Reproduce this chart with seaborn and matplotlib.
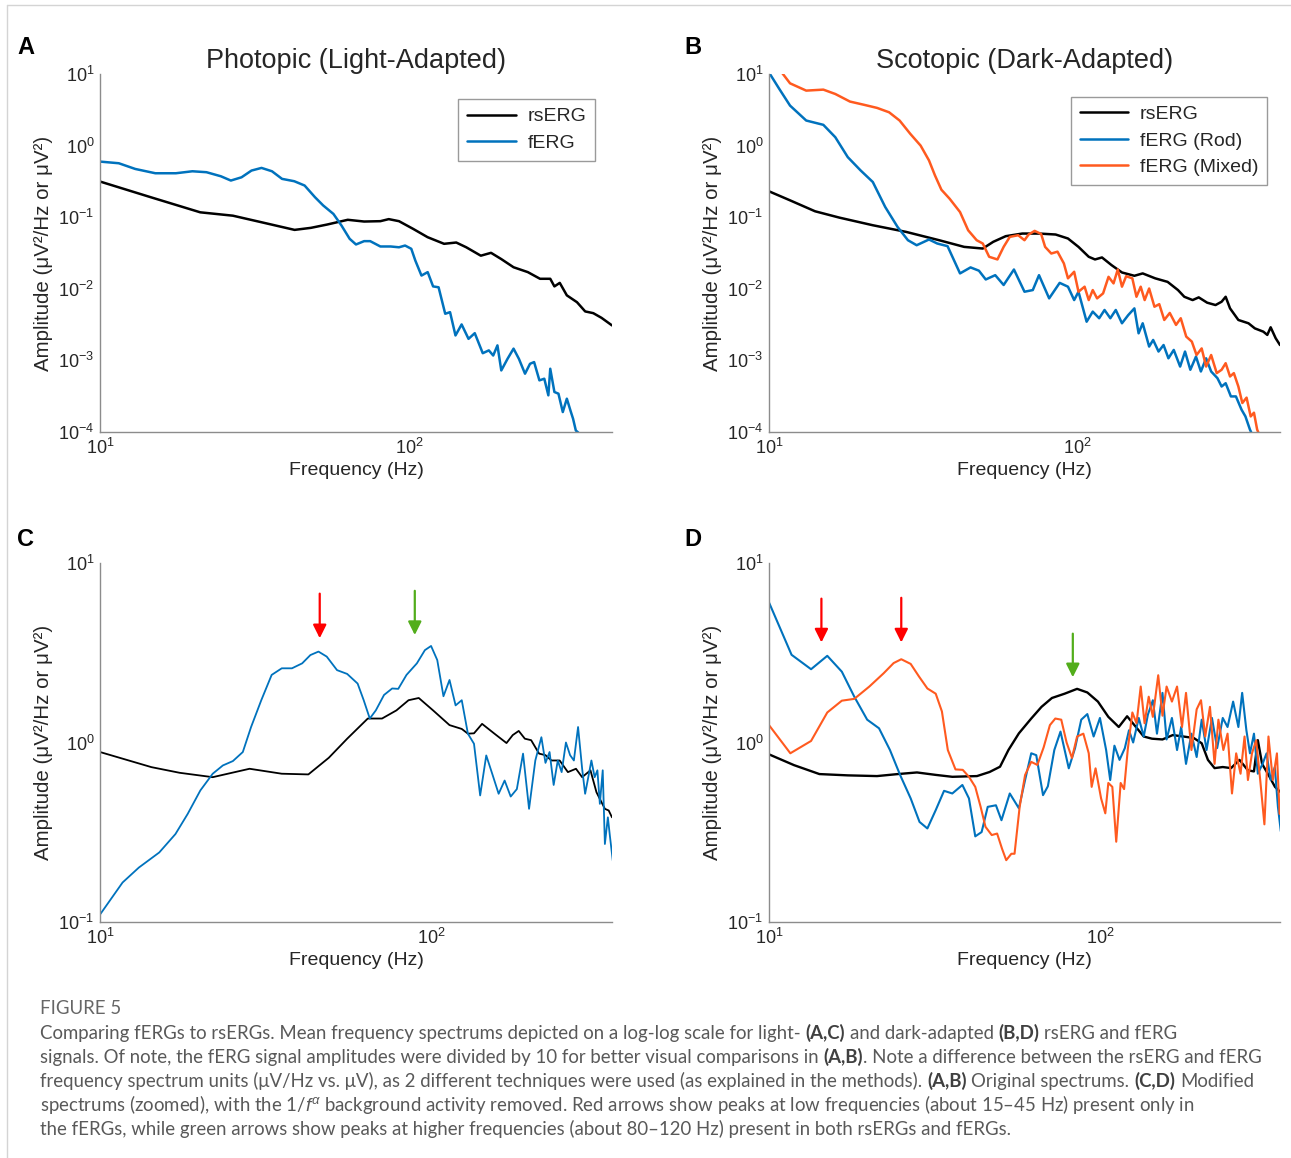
import numpy as np
import matplotlib
matplotlib.use("Agg")
import matplotlib.pyplot as plt
import seaborn as sns
from matplotlib.ticker import LogLocator, FuncFormatter, NullFormatter
from matplotlib.lines import Line2D

# ---------------- Panel A: photopic, original spectra ----------------
photopic_rs_hz = [10, 14.6, 21.1, 26.9, 33.3, 42.6, 48.1, 54.3, 63.3, 71.5, 80.7, 85.9, 92.7, 103,
                  114.7, 129.7, 142, 153, 170.5, 184, 198.6, 217.6, 242, 265, 286, 295, 307, 323.6,
                  349, 371, 394, 419, 453]
photopic_rs_amp = [0.315, 0.19, 0.117, 0.105, 0.085, 0.0665, 0.071, 0.079, 0.092, 0.087, 0.088, 0.094,
                   0.088, 0.0687, 0.0526, 0.0425, 0.0443, 0.038, 0.029, 0.0318, 0.026, 0.020, 0.0171,
                   0.0138, 0.0138, 0.0108, 0.0121, 0.0081, 0.0065, 0.00483, 0.00457, 0.00393, 0.00308]

photopic_f_hz = [10, 11.5, 13.0, 15.1, 17.6, 19.9, 22.1, 24.6, 26.5, 28.7, 30.9, 33.3, 36, 38.8, 42.5,
                 45.9, 49.6, 52.7, 56.9, 60.4, 64.2, 67.3, 71.5, 74.8, 80.7, 87.1, 92.7, 97, 101.6,
                 104.7, 109.6, 114.8, 119.5, 124.5, 130.8, 135.6, 141.2, 147.8, 155.6, 163, 173, 181,
                 187, 193, 198.6, 208, 217.6, 226.5, 237, 246, 253.6, 263.8, 273.6, 282, 286, 295, 304,
                 314, 323.6, 333.6, 339, 346, 352.5]
photopic_f_amp = [0.598, 0.567, 0.472, 0.411, 0.411, 0.438, 0.425, 0.373, 0.325, 0.361, 0.448, 0.488,
                  0.438, 0.343, 0.318, 0.277, 0.190, 0.146, 0.111, 0.0766, 0.0499, 0.0416, 0.0463,
                  0.0463, 0.039, 0.039, 0.038, 0.0402, 0.0362, 0.0248, 0.0153, 0.0171, 0.0108, 0.0105,
                  0.00448, 0.00472, 0.00223, 0.00318, 0.0020, 0.0024, 0.00126, 0.00138, 0.00117,
                  0.00162, 0.000724, 0.00105, 0.00146, 0.00105, 0.000652, 0.000897, 0.000948,
                  0.000526, 0.000555, 0.000325, 0.000765, 0.000362, 0.000343, 0.00019, 0.000292,
                  0.00019, 0.000153, 0.000105, 0.000098]

# ---------------- Panel B: scotopic, original spectra ----------------
scotopic_rs_hz = [10, 11.7, 14.1, 16.9, 21.7, 27.8, 35.6, 42.9, 49.3, 53.3, 58.5, 66.2, 75, 84.9, 93.1,
                  100.7, 108.7, 113.9, 120, 128.9, 139.3, 152.8, 162.6, 178.5, 195.8, 211.6, 221.8,
                  236, 247, 263, 280, 293, 302, 312, 332, 358, 375.5, 400, 412, 422.5, 438.6, 453]
scotopic_rs_amp = [0.230, 0.172, 0.121, 0.0987, 0.0772, 0.0624, 0.0477, 0.0385, 0.0365, 0.0453, 0.0543,
                   0.0591, 0.0591, 0.0573, 0.0504, 0.0385, 0.028, 0.0257, 0.0274, 0.0214, 0.0169,
                   0.0152, 0.0164, 0.014, 0.0125, 0.0096, 0.00774, 0.00696, 0.00759, 0.0064, 0.00593,
                   0.0066, 0.00774, 0.00533, 0.00367, 0.0033, 0.0028, 0.00252, 0.00227, 0.0029,
                   0.00204, 0.00164]

scotopic_rod_hz = [10, 10.8, 11.7, 13.2, 15.0, 16.4, 18.0, 19.8, 21.7, 23.8, 26.1, 28.2, 30.1, 33, 35.1,
                   37.9, 41.6, 45, 47.9, 50.4, 54.1, 57.6, 62.2, 67.3, 71.6, 75, 80.9, 87.5, 93.1,
                   97.5, 100.7, 107, 112, 117.5, 122.3, 127.7, 133, 139.3, 146, 152.8, 157.7, 162.6,
                   170.6, 175.8, 183, 190, 197, 205, 215, 223, 232, 242, 251, 261, 271, 284, 293, 302,
                   314, 326, 340, 350, 362, 367]
scotopic_rod_amp = [10.5, 6.18, 3.62, 2.24, 1.95, 1.31, 0.690, 0.451, 0.310, 0.139, 0.0731, 0.0477,
                    0.0406, 0.0488, 0.0429, 0.0394, 0.0164, 0.0199, 0.0179, 0.0135, 0.0155, 0.0113,
                    0.0186, 0.0091, 0.0096, 0.0155, 0.00735, 0.0121, 0.0107, 0.00696, 0.0091, 0.00347,
                    0.0048, 0.00388, 0.00506, 0.00388, 0.00506, 0.0033, 0.0043, 0.00533, 0.00239,
                    0.0033, 0.00156, 0.00193, 0.00133, 0.00164, 0.00107, 0.0014, 0.00082, 0.00133,
                    0.00074, 0.00113, 0.0007, 0.00107, 0.0007, 0.000565, 0.000432, 0.00048, 0.000314,
                    0.000314, 0.000205, 0.000165, 0.000108, 0.000095]

scotopic_mix_hz = [11.0, 11.7, 13.2, 15.0, 16.4, 18.3, 20.4, 22.4, 24.5, 26.5, 28.7, 31, 33, 34.5, 36.2,
                   38.5, 41.6, 44.2, 47.1, 49.3, 51.7, 55, 57.6, 60.3, 64.2, 67.3, 69.4, 72.6, 76.2,
                   78.5, 82.2, 86.1, 90.3, 93.1, 97.5, 100.7, 105.4, 108.7, 112, 115.7, 121, 126,
                   130.8, 135, 139.3, 143.7, 150.5, 155.2, 160.2, 165, 170.6, 177.5, 184, 191, 199,
                   208.5, 216, 225, 234.6, 243, 252.5, 261, 271, 282.5, 293, 302, 312, 321, 332, 342,
                   353, 364, 373, 382, 389]
scotopic_mix_amp = [10.5, 7.41, 5.86, 6.05, 5.26, 4.12, 3.70, 3.36, 2.92, 2.24, 1.46, 1.0, 0.621, 0.384,
                    0.242, 0.181, 0.118, 0.0657, 0.0477, 0.0429, 0.028, 0.0257, 0.0385, 0.0531, 0.056,
                    0.0477, 0.0573, 0.0644, 0.0583, 0.0385, 0.0311, 0.033, 0.0226, 0.014, 0.0173,
                    0.0091, 0.0107, 0.00696, 0.0096, 0.00735, 0.00863, 0.0147, 0.0119, 0.0186, 0.0107,
                    0.015, 0.014, 0.00774, 0.0107, 0.00696, 0.0101, 0.00562, 0.0061, 0.00367, 0.0046,
                    0.00313, 0.00388, 0.00215, 0.00183, 0.00119, 0.00147, 0.00082, 0.00119, 0.000664,
                    0.00074, 0.000914, 0.000596, 0.000664, 0.000432, 0.000254, 0.000302, 0.000165,
                    0.000186, 0.000108, 0.00009]

# ---------------- Panel C: photopic, 1/f removed ----------------
flat_photopic_rs_hz = [10, 14.3, 17.4, 21.9, 28.3, 35.4, 42.6, 49.1, 55.8, 64.4, 71.1, 78.6, 85.5, 91.8,
                       101.4, 113.7, 123.8, 129.2, 134.8, 142.6, 155.4, 169, 176.5, 184, 192, 200.6,
                       212, 221.6, 231, 244.6, 259, 274, 286, 303, 316, 335, 344, 352]
flat_photopic_rs_amp = [0.885, 0.729, 0.678, 0.641, 0.714, 0.670, 0.664, 0.822, 1.05, 1.36, 1.36, 1.51,
                        1.72, 1.77, 1.51, 1.25, 1.19, 1.12, 1.125, 1.27, 1.12, 0.993, 1.10, 1.16, 1.05,
                        1.03, 0.867, 0.85, 0.794, 0.794, 0.684, 0.714, 0.641, 0.70, 0.528, 0.427, 0.418,
                        0.383]

flat_photopic_f_hz = [10, 11.7, 13.1, 15.1, 16.9, 18.4, 20.1, 21.9, 23.5, 25.2, 27, 28.6, 30.7, 33, 35.4,
                      38, 40.8, 43.2, 45.7, 48.4, 52, 55.8, 60, 62.6, 65.3, 68.1, 72.1, 76.3, 79.6,
                      84.3, 90.6, 95.8, 100, 104.4, 109, 113.7, 118.6, 123.8, 129.2, 134.8, 140.7,
                      146.8, 153, 160, 166.8, 174, 181.6, 189.6, 197.7, 206.5, 215.4, 221.6, 228,
                      234.6, 241.4, 248, 255.5, 263, 270, 278, 286, 292, 298.5, 305, 312, 318, 323.5,
                      330, 335, 342, 347, 354]
flat_photopic_f_amp = [0.110, 0.166, 0.201, 0.244, 0.309, 0.400, 0.541, 0.670, 0.745, 0.788, 0.885, 1.22,
                       1.72, 2.38, 2.59, 2.59, 2.76, 3.07, 3.21, 3.01, 2.53, 2.41, 2.13, 1.72, 1.36,
                       1.51, 1.84, 2.0, 1.99, 2.38, 2.76, 3.27, 3.45, 2.88, 1.81, 2.23, 1.61, 1.72,
                       1.12, 0.984, 0.507, 0.847, 0.67, 0.518, 0.614, 0.50, 0.55, 0.867, 0.427, 0.794,
                       1.07, 0.77, 0.885, 0.58, 0.794, 0.684, 1.0, 0.85, 0.794, 1.22, 0.714, 0.518,
                       0.641, 0.794, 0.641, 0.70, 0.455, 0.70, 0.272, 0.383, 0.30, 0.219]

# ---------------- Panel D: scotopic, 1/f removed ----------------
flat_scotopic_rs_hz = [10, 11.9, 14.2, 17.3, 21.2, 24.5, 28, 31.9, 35.8, 42.5, 46.4, 49.9, 52.9, 56.9, 62,
                       66.6, 71.6, 78.2, 85.3, 91.6, 98.6, 106, 114, 120.8, 128, 135.6, 143.6, 154.5,
                       166, 178.6, 192, 203, 212, 222, 235, 249, 264, 280, 292, 300, 309, 323, 338, 350]
flat_scotopic_rs_amp = [0.859, 0.748, 0.667, 0.656, 0.650, 0.667, 0.681, 0.66, 0.644, 0.650, 0.685,
                        0.733, 0.908, 1.125, 1.36, 1.58, 1.77, 1.87, 1.99, 1.90, 1.69, 1.39, 1.22, 1.40,
                        1.23, 1.08, 1.05, 1.04, 1.10, 1.08, 1.06, 0.99, 0.80, 0.72, 0.73, 0.72, 0.80,
                        0.70, 0.69, 1.03, 0.76, 0.66, 0.566, 0.532]

flat_scotopic_rod_hz = [10, 11.7, 13.4, 15.0, 16.6, 18.1, 19.8, 21.5, 23.2, 24.9, 26.8, 28.5, 30.1, 31.9,
                        33.8, 35.8, 38.4, 40.2, 42, 43.9, 45.8, 48.5, 50.4, 53.4, 56.9, 59.4, 62, 64.2,
                        67.3, 69.6, 72.8, 76, 80.5, 84.1, 87.8, 91.6, 95.7, 100, 104.4, 107.4, 110.6,
                        114.6, 118.9, 122.4, 126, 131, 135.6, 139.6, 144.5, 148.7, 154.5, 159, 165, 171,
                        176, 182, 189, 196, 203, 210, 218, 226, 235, 243, 252.6, 262, 269, 277, 284, 292,
                        300, 310, 318.7, 328, 337.6, 345, 352]
flat_scotopic_rod_amp = [6.03, 3.08, 2.56, 3.04, 2.48, 1.80, 1.34, 1.2, 0.908, 0.659, 0.488, 0.361,
                         0.332, 0.42, 0.538, 0.52, 0.58, 0.488, 0.30, 0.317, 0.438, 0.447, 0.369, 0.52,
                         0.43, 0.618, 0.871, 0.85, 0.509, 0.57, 0.908, 1.15, 0.718, 0.93, 1.34, 1.44,
                         1.08, 1.37, 0.908, 0.618, 0.96, 0.80, 0.93, 1.17, 1.0, 1.37, 1.08, 1.43, 1.72,
                         1.12, 1.89, 1.04, 1.37, 0.908, 1.22, 0.76, 1.12, 0.83, 1.34, 0.908, 1.37, 0.93,
                         1.37, 1.22, 1.69, 1.22, 1.89, 1.17, 0.87, 1.12, 0.67, 0.76, 0.87, 0.618, 0.73,
                         0.438, 0.32]

flat_scotopic_mix_hz = [10, 11.6, 13.4, 15.0, 16.6, 18.1, 20.1, 22.2, 23.8, 25.1, 26.8, 28.4, 30.1, 31.9,
                        33.3, 34.7, 36.6, 38.5, 40.2, 42, 43.6, 45.1, 47.1, 48.9, 50.6, 52.1, 54, 55.2,
                        57.2, 59.4, 62, 64.7, 67.6, 70.6, 73.3, 76.4, 79.3, 82.3, 85.3, 89.1, 92.5,
                        94.4, 97, 100.8, 103.8, 106, 109, 112, 115.5, 118.3, 121.4, 125.3, 129, 132.8,
                        136.4, 140.4, 144.5, 150, 154.5, 159, 165, 171, 177, 182, 189, 196, 202, 208,
                        215, 222, 228, 236, 243, 250.6, 258, 266, 273.5, 280, 288, 296.5, 305, 314, 323,
                        333, 342.6, 349]
flat_scotopic_mix_amp = [1.25, 0.871, 1.02, 1.47, 1.71, 1.75, 2.05, 2.43, 2.77, 2.91, 2.74, 2.33, 2.0,
                         1.87, 1.49, 0.908, 0.708, 0.704, 0.644, 0.566, 0.438, 0.339, 0.305, 0.311,
                         0.256, 0.221, 0.24, 0.24, 0.438, 0.659, 0.78, 0.75, 0.94, 1.25, 1.36, 1.34,
                         1.0, 0.82, 1.08, 1.12, 0.871, 0.566, 0.718, 0.488, 0.403, 0.595, 0.566, 0.28,
                         0.595, 0.55, 0.92, 1.47, 1.28, 2.05, 1.28, 1.80, 1.39, 2.37, 1.41, 2.05, 1.69,
                         2.05, 1.22, 1.89, 0.908, 1.53, 1.72, 1.08, 1.58, 0.76, 1.34, 0.908, 1.12, 0.52,
                         0.87, 0.67, 1.08, 0.618, 0.87, 1.03, 0.618, 0.35, 1.08, 0.618, 0.87, 0.40]

# Peak markers: (panel, frequency Hz, arrow tip, arrow tail, colour)
arrow_panel = ["C", "C", "D", "D", "D"]
arrow_hz = [46.1, 89.3, 14.4, 25.1, 82.8]
arrow_tip = [3.81, 3.97, 3.61, 3.61, 2.31]
arrow_tail = [6.75, 7.0, 6.33, 6.40, 4.04]
arrow_color = ["#FF0000", "#52AD1B", "#FF0000", "#FF0000", "#52AD1B"]

BLACK = "#000000"
BLUE = "#0072BD"
ORANGE = "#FF5A1F"
AXIS_GREY = "#8c8c8c"
TEXT = "#262626"

sns.set_theme(style="white")
plt.rcParams["font.family"] = ["Liberation Sans", "DejaVu Sans"]
plt.rcParams["mathtext.fontset"] = "custom"
plt.rcParams["mathtext.rm"] = "Liberation Sans"
plt.rcParams["mathtext.it"] = "Liberation Sans:italic"
plt.rcParams["mathtext.bf"] = "Liberation Sans:bold"

W, H = 1291, 1158
fig = plt.figure(figsize=(W / 100, H / 100), dpi=100)
fig.patch.set_facecolor("white")


def box(left, top, right, bottom):
    return [left / W, 1 - bottom / H, (right - left) / W, (bottom - top) / H]


def pow10(v, pos):
    return f"$10^{{{int(round(np.log10(v)))}}}$"


def style(ax, xlim, ylim):
    ax.set_xscale("log")
    ax.set_yscale("log")
    ax.set_xlim(*xlim)
    ax.set_ylim(*ylim)
    ax.set_facecolor("white")
    for s in ["top", "right"]:
        ax.spines[s].set_visible(False)
    for s in ["left", "bottom"]:
        ax.spines[s].set_color(AXIS_GREY)
        ax.spines[s].set_linewidth(1.0)
    for axis in (ax.xaxis, ax.yaxis):
        axis.set_major_locator(LogLocator(base=10, numticks=20))
        axis.set_minor_locator(LogLocator(base=10, subs=np.arange(2, 10), numticks=40))
        axis.set_major_formatter(FuncFormatter(pow10))
        axis.set_minor_formatter(NullFormatter())
    ax.tick_params(which="both", direction="in", color=AXIS_GREY, width=0.8,
                   labelcolor=TEXT, labelsize=13, pad=4, top=False, right=False)
    ax.tick_params(which="major", length=5)
    ax.tick_params(which="minor", length=3)
    ax.set_xlabel("Frequency (Hz)", fontsize=14, color=TEXT, labelpad=3)
    ax.set_ylabel("Amplitude (μV²/Hz or μV²)", fontsize=14.8, color=TEXT, labelpad=4)


def draw(ax, hz, amp, color, lw, label=None):
    sns.lineplot(x=hz, y=amp, color=color, linewidth=lw, ax=ax, label=label,
                 estimator=None, sort=False, legend=False)


def legend(ax, anchor):
    leg = ax.legend(loc="upper right", bbox_to_anchor=anchor, frameon=True, fancybox=False,
                    framealpha=1, edgecolor="#9a9a9a", fontsize=14, handlelength=2.5,
                    handletextpad=0.6, labelspacing=0.45, borderpad=0.45, borderaxespad=0)
    leg.get_frame().set_linewidth(1.0)
    for t in leg.get_texts():
        t.set_color(TEXT)


axA = fig.add_axes(box(100, 74, 612, 432))
axB = fig.add_axes(box(769, 74, 1280, 432))
axC = fig.add_axes(box(100, 563, 612, 922))
axD = fig.add_axes(box(769, 563, 1280, 922))

style(axA, (10, 453), (1e-4, 10))
style(axB, (10, 453), (1e-4, 10))
style(axC, (10, 352), (0.1, 10))
style(axD, (10, 350), (0.1, 10))

draw(axA, photopic_rs_hz, photopic_rs_amp, BLACK, 1.8, "rsERG")
draw(axA, photopic_f_hz, photopic_f_amp, BLUE, 1.8, "fERG")
legend(axA, (0.967, 0.930))
axA.set_title("Photopic (Light-Adapted)", fontsize=19.5, color=TEXT, pad=4)

draw(axB, scotopic_rs_hz, scotopic_rs_amp, BLACK, 1.8, "rsERG")
draw(axB, scotopic_rod_hz, scotopic_rod_amp, BLUE, 1.8, "fERG (Rod)")
draw(axB, scotopic_mix_hz, scotopic_mix_amp, ORANGE, 1.8, "fERG (Mixed)")
legend(axB, (0.975, 0.936))
axB.set_title("Scotopic (Dark-Adapted)", fontsize=19.5, color=TEXT, pad=4)

draw(axC, flat_photopic_rs_hz, flat_photopic_rs_amp, BLACK, 1.3)
draw(axC, flat_photopic_f_hz, flat_photopic_f_amp, BLUE, 1.3)

draw(axD, flat_scotopic_rs_hz, flat_scotopic_rs_amp, BLACK, 1.7)
draw(axD, flat_scotopic_rod_hz, flat_scotopic_rod_amp, BLUE, 1.5)
draw(axD, flat_scotopic_mix_hz, flat_scotopic_mix_amp, ORANGE, 1.5)

panel_axes = {"C": axC, "D": axD}
for p, f, tip, tail, c in zip(arrow_panel, arrow_hz, arrow_tip, arrow_tail, arrow_color):
    panel_axes[p].annotate("", xy=(f, tip), xytext=(f, tail),
                           arrowprops=dict(arrowstyle="-|>", color=c, lw=1.6,
                                           mutation_scale=20, shrinkA=0, shrinkB=0))

# panel letters
for letter, x, y in [("A", 26, 48), ("B", 693, 48), ("C", 26, 540), ("D", 693, 540)]:
    fig.text(x / W, 1 - y / H, letter, ha="center", va="center", fontsize=17,
             fontweight="bold", color="black")

# page frame lines
fig.add_artist(Line2D([7 / W, 7 / W], [0, 1 - 5 / H], transform=fig.transFigure,
                      color="#d4d4d4", lw=1.0))
fig.add_artist(Line2D([7 / W, 1], [1 - 5 / H, 1 - 5 / H], transform=fig.transFigure,
                      color="#d4d4d4", lw=1.0))

# caption
CAP_FONT = ["Lato", "DejaVu Sans"]
CAP_COLOR = "#595959"
caption = [
    [("Comparing fERGs to rsERGs. Mean frequency spectrums depicted on a log-log scale for light-", False, False),
     ("(A,C)", True, True), ("and dark-adapted", False, True), ("(B,D)", True, True),
     ("rsERG and fERG", False, True)],
    [("signals. Of note, the fERG signal amplitudes were divided by 10 for better visual comparisons in", False, False),
     ("(A,B)", True, True),
     (". Note a difference between the rsERG and fERG", False, False)],
    [("frequency spectrum units (μV/Hz vs. μV), as 2 different techniques were used (as explained in the methods).", False, False),
     ("(A,B)", True, True), ("Original spectrums.", False, True), ("(C,D)", True, True),
     ("Modified", False, True)],
    [("spectrums (zoomed), with the 1/$f^{\\alpha}$ background activity removed. Red arrows show peaks at low frequencies (about 15–45 Hz) present only in", False, False)],
    [("the fERGs, while green arrows show peaks at higher frequencies (about 80–120 Hz) present in both rsERGs and fERGs.", False, False)],
]
renderer = fig.canvas.get_renderer()


def measure(s, size, bold=False):
    t = fig.text(0, 0, s, fontsize=size, family=CAP_FONT,
                 fontweight="bold" if bold else "normal")
    w = t.get_window_extent(renderer).width
    t.remove()
    return w


def rich_line(segments, x0, y0, size, draw_it=True):
    space = measure("x x", size) - measure("xx", size)
    x = x0
    for text, bold, sp in segments:
        if sp:
            x += space
        t = fig.text(x / W, 1 - y0 / H, text, fontsize=size, family=CAP_FONT,
                     fontweight="bold" if bold else "normal",
                     color="#404040" if bold else CAP_COLOR, ha="left", va="baseline")
        x += t.get_window_extent(renderer).width
        if not draw_it:
            t.remove()
    return x - x0


base = 12.0
w2 = rich_line(caption[1], 40, 1063, base, draw_it=False)
cap_size = base * (1221 / w2)

fig.text(40 / W, 1 - 1014 / H, "FIGURE 5", fontsize=cap_size, family=CAP_FONT,
         color="#666666", ha="left", va="baseline")
for i, segs in enumerate(caption):
    rich_line(segs, 40, 1039 + 24 * i, cap_size)

fig.savefig("out.png", dpi=100, facecolor="white")
